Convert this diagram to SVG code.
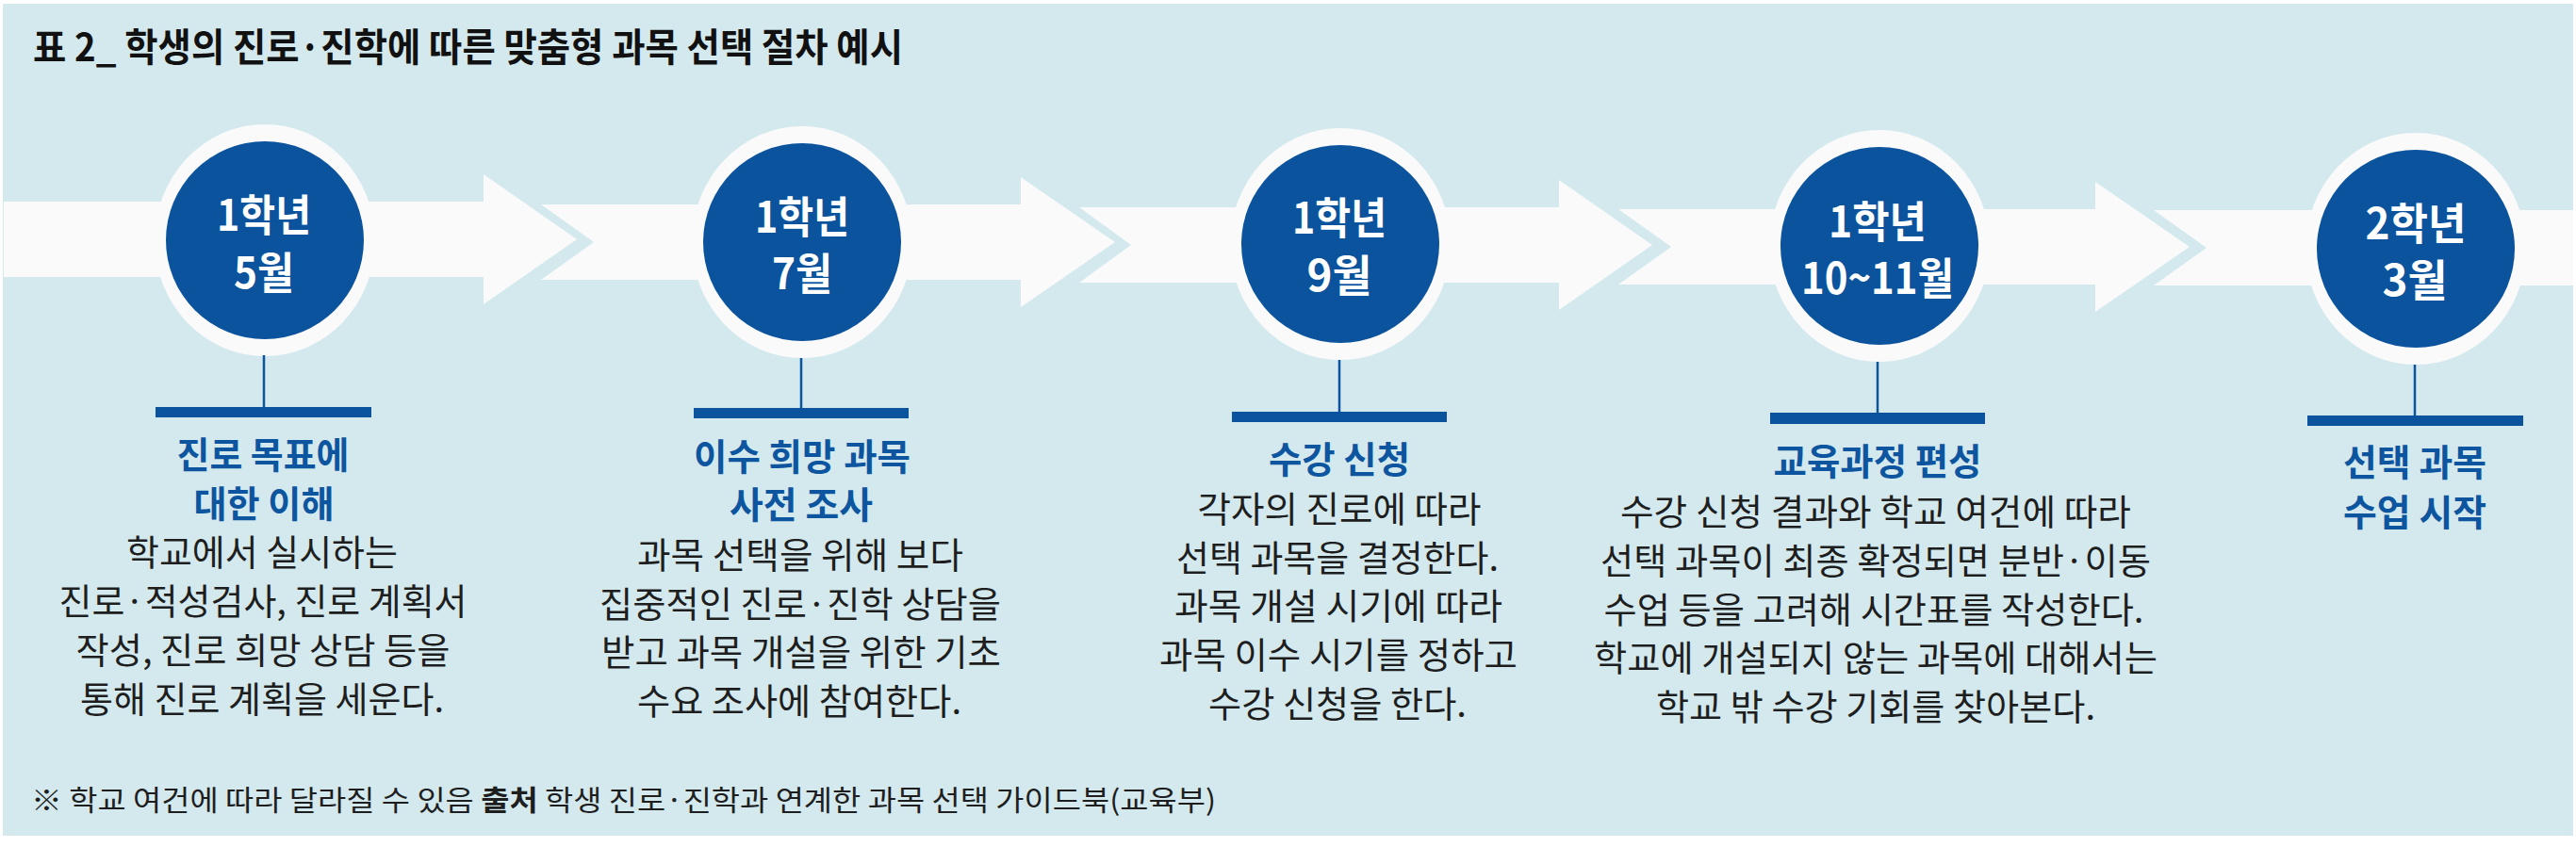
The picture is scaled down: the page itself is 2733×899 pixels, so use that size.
<svg xmlns="http://www.w3.org/2000/svg" width="2733" height="899" viewBox="0 0 2733 899">
<style>
.bg{fill:#d3e9ee}
.band{fill:#fafafa}
.ring{fill:#fafafa}
.dot{fill:#0b539d}
.stem{stroke:#0b539d;stroke-width:2.5;fill:none}
.bar{fill:#0b539d}
text{font-family:"Noto Sans CJK KR","Noto Sans",sans-serif;text-anchor:middle}
.ct{fill:#ffffff;font-weight:700;font-size:46px}
.tt{fill:#0e55a0;font-weight:700;font-size:39px}
.bd{fill:#1e1e1e;font-weight:400;font-size:38px}
.hd{fill:#111111;font-weight:700;font-size:41px;text-anchor:start}
.fn{fill:#1e1e1e;font-weight:400;font-size:30px;text-anchor:start}
</style>
<rect x="0" y="0" width="2733" height="899" fill="#ffffff"/>
<rect class="bg" x="3" y="4" width="2727" height="883"/>
<text class="hd" x="35" y="65" textLength="923" lengthAdjust="spacingAndGlyphs">표 2_ 학생의 진로·진학에 따른 맞춤형 과목 선택 절차 예시</text>
<g id="connectors">
<polygon class="band" points="4,214 513,214 513,185 612,254 513,323 513,294 4,294"/>
<polygon class="band" points="574,217 1083,217 1083,188 1183,257 1083,326 1083,297 574,297 630,257"/>
<polygon class="band" points="1145,220 1654,220 1654,191 1753,260 1654,329 1654,300 1145,300 1200,260"/>
<polygon class="band" points="1717,222 2223,222 2223,193 2323,262 2223,331 2223,302 1717,302 1773,262"/>
<polygon class="band" points="2285,223 2730,223 2730,303 2285,303 2341,263"/>
</g>
<g id="node1">
<ellipse class="ring" cx="281" cy="255" rx="117" ry="123"/>
<circle class="dot" cx="281" cy="255" r="105"/>
<text class="ct" x="280" y="245" textLength="100" lengthAdjust="spacingAndGlyphs">1학년</text>
<text class="ct" x="280" y="306" textLength="64" lengthAdjust="spacingAndGlyphs">5월</text>
<line class="stem" x1="280" y1="377" x2="280" y2="433"/>
<rect class="bar" x="165" y="432" width="229" height="11"/>
<text class="tt" x="279" y="497" textLength="183" lengthAdjust="spacingAndGlyphs">진로 목표에</text>
<text class="tt" x="280" y="549" textLength="149" lengthAdjust="spacingAndGlyphs">대한 이해</text>
<text class="bd" x="278" y="600" textLength="288" lengthAdjust="spacingAndGlyphs">학교에서 실시하는</text>
<text class="bd" x="279" y="652" textLength="433" lengthAdjust="spacingAndGlyphs">진로·적성검사, 진로 계획서</text>
<text class="bd" x="279" y="704" textLength="397" lengthAdjust="spacingAndGlyphs">작성, 진로 희망 상담 등을</text>
<text class="bd" x="278" y="756" textLength="386" lengthAdjust="spacingAndGlyphs">통해 진로 계획을 세운다.</text>
</g>
<g id="node2">
<ellipse class="ring" cx="851" cy="257" rx="117" ry="123"/>
<circle class="dot" cx="851" cy="257" r="105"/>
<text class="ct" x="851" y="247" textLength="100" lengthAdjust="spacingAndGlyphs">1학년</text>
<text class="ct" x="851" y="307" textLength="64" lengthAdjust="spacingAndGlyphs">7월</text>
<line class="stem" x1="850" y1="380" x2="850" y2="434"/>
<rect class="bar" x="736" y="433" width="228" height="11"/>
<text class="tt" x="851" y="499" textLength="230" lengthAdjust="spacingAndGlyphs">이수 희망 과목</text>
<text class="tt" x="850" y="550" textLength="152" lengthAdjust="spacingAndGlyphs">사전 조사</text>
<text class="bd" x="849" y="603" textLength="346" lengthAdjust="spacingAndGlyphs">과목 선택을 위해 보다</text>
<text class="bd" x="849" y="655" textLength="426" lengthAdjust="spacingAndGlyphs">집중적인 진로·진학 상담을</text>
<text class="bd" x="850" y="706" textLength="424" lengthAdjust="spacingAndGlyphs">받고 과목 개설을 위한 기초</text>
<text class="bd" x="848" y="758" textLength="344" lengthAdjust="spacingAndGlyphs">수요 조사에 참여한다.</text>
</g>
<g id="node3">
<ellipse class="ring" cx="1422" cy="259" rx="117" ry="123"/>
<circle class="dot" cx="1422" cy="259" r="105"/>
<text class="ct" x="1421" y="248" textLength="100" lengthAdjust="spacingAndGlyphs">1학년</text>
<text class="ct" x="1421" y="309" textLength="69" lengthAdjust="spacingAndGlyphs">9월</text>
<line class="stem" x1="1421" y1="382" x2="1421" y2="438"/>
<rect class="bar" x="1307" y="437" width="228" height="11"/>
<text class="tt" x="1421" y="502" textLength="150" lengthAdjust="spacingAndGlyphs">수강 신청</text>
<text class="bd" x="1421" y="554" textLength="301" lengthAdjust="spacingAndGlyphs">각자의 진로에 따라</text>
<text class="bd" x="1419" y="606" textLength="342" lengthAdjust="spacingAndGlyphs">선택 과목을 결정한다.</text>
<text class="bd" x="1420" y="657" textLength="348" lengthAdjust="spacingAndGlyphs">과목 개설 시기에 따라</text>
<text class="bd" x="1420" y="709" textLength="380" lengthAdjust="spacingAndGlyphs">과목 이수 시기를 정하고</text>
<text class="bd" x="1419" y="761" textLength="274" lengthAdjust="spacingAndGlyphs">수강 신청을 한다.</text>
</g>
<g id="node4">
<ellipse class="ring" cx="1994" cy="261" rx="117" ry="123"/>
<circle class="dot" cx="1994" cy="261" r="105"/>
<text class="ct" x="1992" y="252" textLength="104" lengthAdjust="spacingAndGlyphs">1학년</text>
<text class="ct" x="1992" y="312" textLength="162" lengthAdjust="spacingAndGlyphs">10~11월</text>
<line class="stem" x1="1992" y1="384" x2="1992" y2="439"/>
<rect class="bar" x="1878" y="438" width="228" height="12"/>
<text class="tt" x="1992" y="504" textLength="221" lengthAdjust="spacingAndGlyphs">교육과정 편성</text>
<text class="bd" x="1990" y="557" textLength="542" lengthAdjust="spacingAndGlyphs">수강 신청 결과와 학교 여건에 따라</text>
<text class="bd" x="1990" y="609" textLength="584" lengthAdjust="spacingAndGlyphs">선택 과목이 최종 확정되면 분반·이동</text>
<text class="bd" x="1988" y="661" textLength="573" lengthAdjust="spacingAndGlyphs">수업 등을 고려해 시간표를 작성한다.</text>
<text class="bd" x="1990" y="712" textLength="598" lengthAdjust="spacingAndGlyphs">학교에 개설되지 않는 과목에 대해서는</text>
<text class="bd" x="1990" y="764" textLength="466" lengthAdjust="spacingAndGlyphs">학교 밖 수강 기회를 찾아본다.</text>
</g>
<g id="node5">
<ellipse class="ring" cx="2563" cy="264" rx="117" ry="123"/>
<circle class="dot" cx="2563" cy="264" r="105"/>
<text class="ct" x="2563" y="254" textLength="107" lengthAdjust="spacingAndGlyphs">2학년</text>
<text class="ct" x="2562" y="314" textLength="69" lengthAdjust="spacingAndGlyphs">3월</text>
<line class="stem" x1="2562" y1="387" x2="2562" y2="442"/>
<rect class="bar" x="2448" y="441" width="229" height="11"/>
<text class="tt" x="2562" y="505" textLength="152" lengthAdjust="spacingAndGlyphs">선택 과목</text>
<text class="tt" x="2562" y="558" textLength="152" lengthAdjust="spacingAndGlyphs">수업 시작</text>
</g>
<text class="fn" x="33" y="860" textLength="1257" lengthAdjust="spacingAndGlyphs">※ 학교 여건에 따라 달라질 수 있음 <tspan font-weight="700">출처</tspan> 학생 진로·진학과 연계한 과목 선택 가이드북(교육부)</text>
</svg>
